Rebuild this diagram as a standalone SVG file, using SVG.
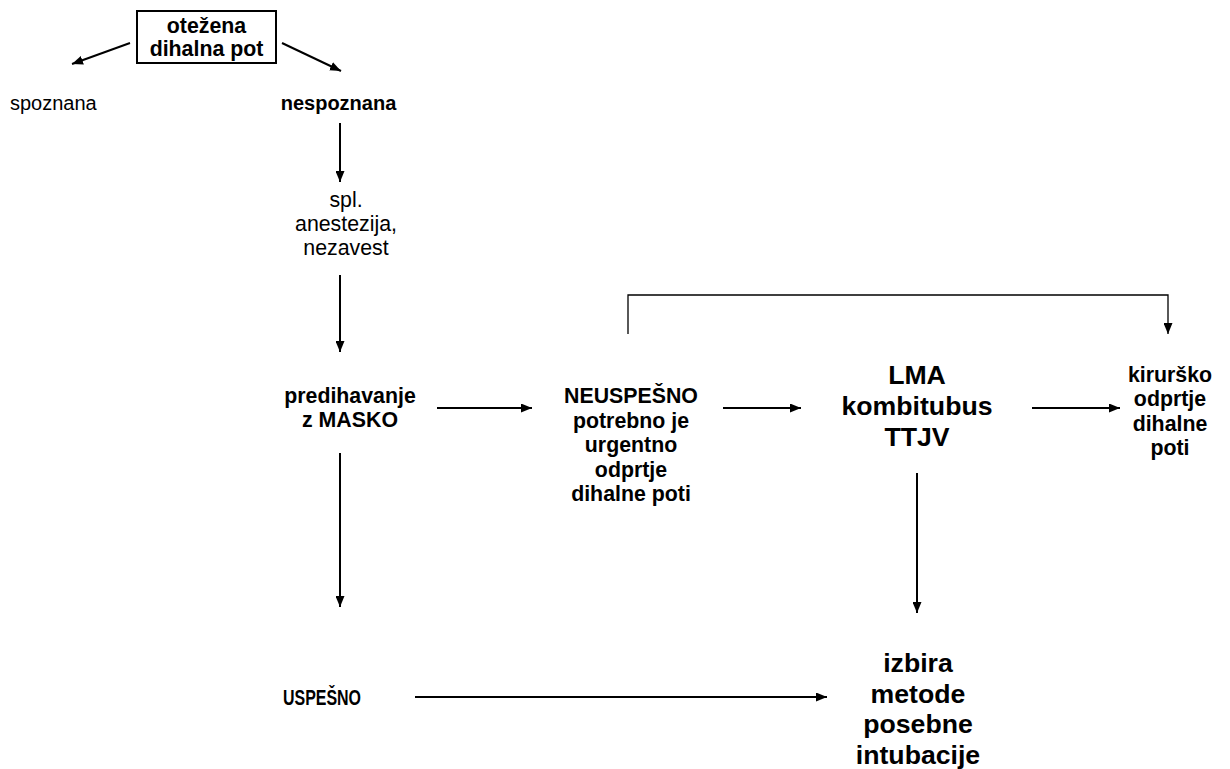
<svg xmlns="http://www.w3.org/2000/svg" width="1230" height="769" viewBox="0 0 1230 769">
<style>
text{font-family:"Liberation Sans",Arial,sans-serif;fill:#000;text-anchor:middle}
.b{font-weight:bold;font-size:21.33px}
.r{font-size:21.33px}
.big{font-weight:bold;font-size:26.67px}
.c line,.c path{stroke:#000;stroke-width:2;fill:none}
.c path.thin{stroke-width:1.3}
</style>
<defs>
<marker id="ah" markerUnits="userSpaceOnUse" markerWidth="11" markerHeight="9" refX="11" refY="4.5" orient="auto">
<path d="M0,0 L11,4.5 L0,9 z" fill="#000"/>
</marker>
</defs>
<rect width="1230" height="769" fill="#fff"/>
<g id="n-otezena">
<rect x="137" y="11" width="139" height="52" fill="none" stroke="#000" stroke-width="2"/>
<text class="b" x="206.5" y="33">otežena</text>
<text class="b" x="206.5" y="56">dihalna pot</text>
</g>
<g id="n-spoznana"><text style="font-size:20px;text-anchor:start" x="10" y="110">spoznana</text></g>
<g id="n-nespoznana"><text style="font-size:20px;font-weight:bold" x="338.5" y="110">nespoznana</text></g>
<g id="n-spl">
<text class="r" x="346" y="207">spl.</text>
<text class="r" x="346" y="231">anestezija,</text>
<text class="r" x="346" y="255">nezavest</text>
</g>
<g id="n-predihavanje">
<text class="b" x="350" y="403">predihavanje</text>
<text class="b" x="350" y="427">z MASKO</text>
</g>
<g id="n-neuspesno">
<text class="b" x="631" y="403">NEUSPEŠNO</text>
<text class="b" x="631" y="428">potrebno je</text>
<text class="b" x="631" y="452">urgentno</text>
<text class="b" x="631" y="477">odprtje</text>
<text class="b" x="631" y="501">dihalne poti</text>
</g>
<g id="n-lma">
<text class="big" x="917" y="384">LMA</text>
<text class="big" x="917" y="415">kombitubus</text>
<text class="big" x="917" y="446">TTJV</text>
</g>
<g id="n-kirursko">
<text class="b" x="1170" y="382">kirurško</text>
<text class="b" x="1170" y="406">odprtje</text>
<text class="b" x="1170" y="431">dihalne</text>
<text class="b" x="1170" y="455">poti</text>
</g>
<g id="n-uspesno"><text class="b" x="322" y="705" textLength="78" lengthAdjust="spacingAndGlyphs">USPEŠNO</text></g>
<g id="n-izbira">
<text class="big" x="918" y="672">izbira</text>
<text class="big" x="918" y="703">metode</text>
<text class="big" x="918" y="733">posebne</text>
<text class="big" x="918" y="764">intubacije</text>
</g>
<g class="c" id="connectors">
<line x1="130" y1="43" x2="72" y2="64" marker-end="url(#ah)"/>
<line x1="282" y1="43" x2="341" y2="71" marker-end="url(#ah)"/>
<line x1="340" y1="123" x2="340" y2="182" marker-end="url(#ah)"/>
<line x1="340" y1="275" x2="340" y2="352" marker-end="url(#ah)"/>
<line x1="437" y1="408" x2="532" y2="408" marker-end="url(#ah)"/>
<line x1="723" y1="408" x2="801" y2="408" marker-end="url(#ah)"/>
<line x1="1032" y1="408" x2="1120" y2="408" marker-end="url(#ah)"/>
<path class="thin" d="M628,334 V295 H1168 V334" marker-end="url(#ah)"/>
<line x1="340" y1="453" x2="340" y2="607" marker-end="url(#ah)"/>
<line x1="917" y1="473" x2="917" y2="613" marker-end="url(#ah)"/>
<line x1="415" y1="697" x2="827" y2="697" marker-end="url(#ah)"/>
</g>
</svg>
